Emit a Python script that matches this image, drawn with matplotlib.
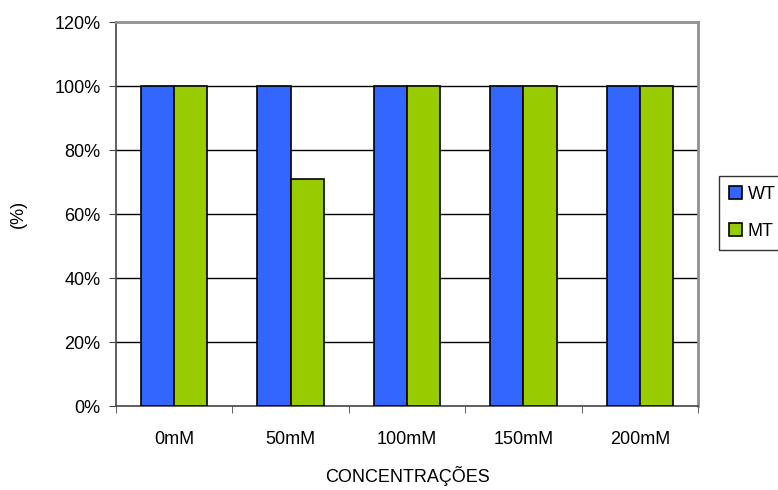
import numpy as np
import matplotlib.pyplot as plt

plt.rcParams['font.family'] = ['Liberation Sans', 'DejaVu Sans']

categories = ["0mM", "50mM", "100mM", "150mM", "200mM"]
wt = [100, 100, 100, 100, 100]
mt = [100, 71, 100, 100, 100]

fig = plt.figure(figsize=(7.78, 4.9), dpi=100)
ax = fig.add_axes([0.1491, 0.1714, 0.7481, 0.7837])

x = np.arange(len(categories))
w = 0.285
ax.bar(x - w / 2, wt, w, color="#3366ff", edgecolor="black", linewidth=1.2, label="WT", zorder=3)
ax.bar(x + w / 2, mt, w, color="#99cc00", edgecolor="black", linewidth=1.2, label="MT", zorder=3)

ax.set_xlim(-0.5, len(categories) - 0.5)
ax.set_ylim(0, 120)
ax.set_yticks(np.arange(0, 121, 20))
ax.set_yticklabels([f"{v}%" for v in range(0, 121, 20)], fontsize=13)
ax.set_xticks(x)
ax.set_xticklabels(categories, fontsize=13)
ax.tick_params(axis="x", length=0, pad=18)
ax.set_xticks(np.arange(-0.5, len(categories)), minor=True)
ax.tick_params(axis="x", which="minor", length=5, direction="out", color="#444444")
ax.tick_params(axis="y", length=5, direction="out", color="#444444", pad=6)

for v in range(20, 120, 20):
    ax.axhline(v, color="black", linewidth=1, zorder=1)

for s in ["top", "right"]:
    ax.spines[s].set_color("#909090")
    ax.spines[s].set_linewidth(2)
for s in ["left", "bottom"]:
    ax.spines[s].set_color("#444444")
    ax.spines[s].set_linewidth(1.2)

ax.set_ylabel("(%)", fontsize=13, labelpad=20)
ax.set_xlabel("CONCENTRAÇÕES", fontsize=13, labelpad=13)

leg = ax.legend(loc="upper left", bbox_to_anchor=(719 / 778, 1 - 176 / 490),
                bbox_transform=fig.transFigure, fontsize=13, frameon=True,
                fancybox=False, edgecolor="black", handlelength=0.75,
                handleheight=0.75, labelspacing=1.1, borderpad=0.55,
                borderaxespad=0, handletextpad=0.3)
leg.get_frame().set_linewidth(1)

fig.savefig("out.png", dpi=100)
